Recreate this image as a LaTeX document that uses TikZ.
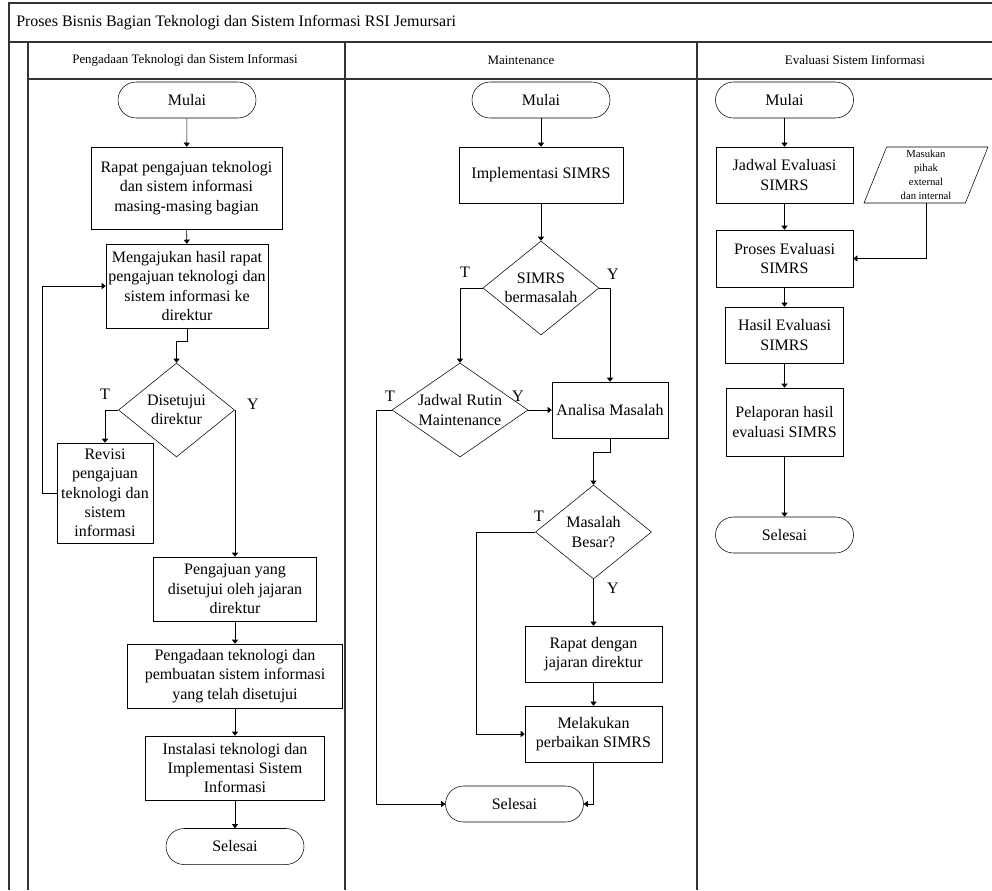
\documentclass[tikz,border=0pt]{standalone}
\usepackage{fontspec}
\setmainfont{Liberation Serif}
\usetikzlibrary{arrows.meta,shapes.geometric}

\begin{document}
\begin{tikzpicture}[x=0.75pt, y=-0.75pt,
  every node/.style={font=\fontsize{12}{14.5}\selectfont},
  box/.style={rectangle, draw, inner sep=1pt, align=center},
  term/.style={rectangle, rounded corners=13.5pt, draw, minimum width=103.5pt, minimum height=27pt},
  decision/.style={diamond, draw, aspect=1.23, inner sep=-4pt, align=center, minimum width=87pt, minimum height=70.5pt},
  datain/.style={trapezium, trapezium left angle=66, trapezium right angle=114, trapezium stretches body,
    draw, align=center, inner sep=0.5pt, font=\fontsize{8}{10.5}\selectfont},
  lanetitle/.style={font=\fontsize{9.7}{12}\selectfont},
  answer/.style={inner sep=0pt},
  pool/.style={draw=black!80, line width=1pt},
  arrow/.style={-{Triangle[length=3pt,width=4.5pt]}}]
  \useasboundingbox (0,0) rectangle (992,890);

  % pool and lanes
  \draw[pool] (9,890) -- (9,3) -- (992,3);
  \draw[pool] (9,42) -- (992,42);
  \draw[pool] (28,42) -- (28,890);
  \draw[pool] (28,79) -- (992,79);
  \draw[pool] (345,42) -- (345,890);
  \draw[pool] (697,42) -- (697,890);
  \node[anchor=west, inner sep=0pt] (pooltitle) at (16,22.5) {Proses Bisnis Bagian Teknologi dan Sistem Informasi RSI Jemursari};
  \node[lanetitle] (lane1) at (185,60.5) {Pengadaan Teknologi dan Sistem Informasi};
  \node[lanetitle] (lane2) at (521,60.5) {Maintenance};
  \node[lanetitle] (lane3) at (855,60.5) {Evaluasi Sistem Iinformasi};

  % lane 1
  \node[term] (mulai1) at (187,100) {Mulai};
  \node[box, minimum width=143.25pt, minimum height=61.5pt] (rapat1) at (186.5,188) {Rapat pengajuan teknologi\\dan sistem informasi\\masing-masing bagian};
  \node[box, minimum width=121.5pt, minimum height=63pt] (ajukan) at (187,286) {Mengajukan hasil rapat\\pengajuan teknologi dan\\sistem informasi ke\\direktur};
  \node[decision] (setuju) at (176.5,410) {Disetujui\\direktur};
  \node[box, minimum width=72pt, minimum height=75pt] (revisi) at (105,493) {Revisi\\pengajuan\\teknologi dan\\sistem\\informasi};
  \node[box, minimum width=122.25pt, minimum height=48pt] (disetujui) at (235,589) {Pengajuan yang\\disetujui oleh jajaran\\direktur};
  \node[box, minimum width=161.25pt, minimum height=48pt] (pengadaan) at (235,676) {Pengadaan teknologi dan\\pembuatan sistem informasi\\yang telah disetujui};
  \node[box, minimum width=134.25pt, minimum height=48pt] (instalasi) at (235,768) {Instalasi teknologi dan\\Implementasi Sistem\\Informasi};
  \node[term] (selesai1) at (235,846.5) {Selesai};
  \node[answer] (t1) at (105,394) {T};
  \node[answer] (y1) at (253,404) {Y};

  \draw[arrow] (mulai1) -- (rapat1);
  \draw[arrow] (rapat1) -- (ajukan);
  \draw[arrow] (ajukan.south) -- ++(0,13) -| (setuju.north);
  \draw[arrow] (setuju.west) -| (revisi.north);
  \draw[arrow] (revisi.west) -- ++(-14,0) |- (ajukan.west);
  \draw[arrow] (setuju.east) -| (disetujui.north);
  \draw[arrow] (disetujui) -- (pengadaan);
  \draw[arrow] (pengadaan) -- (instalasi);
  \draw[arrow] (instalasi) -- (selesai1);

  % lane 2
  \node[term] (mulai2) at (541,100) {Mulai};
  \node[box, minimum width=123pt, minimum height=42pt] (implement) at (541,175) {Implementasi SIMRS};
  \node[decision] (masalah) at (541,288) {SIMRS\\bermasalah};
  \node[decision, aspect=1.45, minimum width=102pt] (rutin) at (460,410) {Jadwal Rutin\\Maintenance};
  \node[box, minimum width=87pt, minimum height=42pt] (analisa) at (610,410) {Analisa Masalah};
  \node[decision] (besar) at (593.5,532) {Masalah\\Besar?};
  \node[box, minimum width=102.75pt, minimum height=42pt] (rapat2) at (593.5,654) {Rapat dengan\\jajaran direktur};
  \node[box, minimum width=102.75pt, minimum height=42pt] (perbaikan) at (593.5,734) {Melakukan\\perbaikan SIMRS};
  \node[term] (selesai2) at (514.5,804) {Selesai};
  \node[answer] (t2) at (465,272) {T};
  \node[answer] (y2) at (613,274) {Y};
  \node[answer] (t3) at (390,396) {T};
  \node[answer] (y3) at (518,396) {Y};
  \node[answer] (t4) at (539,516) {T};
  \node[answer] (y4) at (613,588) {Y};

  \draw[arrow] (mulai2) -- (implement);
  \draw[arrow] (implement) -- (masalah);
  \draw[arrow] (masalah.west) -| (rutin.north);
  \draw[arrow] (masalah.east) -| (analisa.north);
  \draw[arrow] (rutin.east) -- (analisa.west);
  \draw[arrow] (rutin.west) -- ++(-15,0) |- (selesai2.west);
  \draw[arrow] (analisa.south) -- ++(0,14) -| (besar.north);
  \draw[arrow] (besar.south) -- (rapat2.north);
  \draw[arrow] (besar.west) -- ++(-59,0) |- (perbaikan.west);
  \draw[arrow] (rapat2) -- (perbaikan);
  \draw[arrow] (perbaikan.south) |- (selesai2.east);

  % lane 3
  \node[term] (mulai3) at (784.5,100) {Mulai};
  \node[box, minimum width=102.75pt, minimum height=42pt] (jadwal) at (784.5,175) {Jadwal Evaluasi\\SIMRS};
  \node[datain, minimum width=93pt, minimum height=42pt] (masukan) at (926,175) {Masukan\\pihak\\external\\dan internal};
  \node[box, minimum width=102.75pt, minimum height=42.75pt] (proses) at (784.5,258.5) {Proses Evaluasi\\SIMRS};
  \node[box, minimum width=88.5pt, minimum height=42pt] (hasil) at (784.5,335) {Hasil Evaluasi\\SIMRS};
  \node[box, minimum width=87.75pt, minimum height=51pt] (laporan) at (784.5,422) {Pelaporan hasil\\evaluasi SIMRS};
  \node[term] (selesai3) at (784.5,535) {Selesai};

  \draw[arrow] (mulai3) -- (jadwal);
  \draw[arrow] (jadwal) -- (proses);
  \draw[arrow] (masukan.south) |- (proses.east);
  \draw[arrow] (proses) -- (hasil);
  \draw[arrow] (hasil) -- (laporan);
  \draw[arrow] (laporan) -- (selesai3);
\end{tikzpicture}
\end{document}
